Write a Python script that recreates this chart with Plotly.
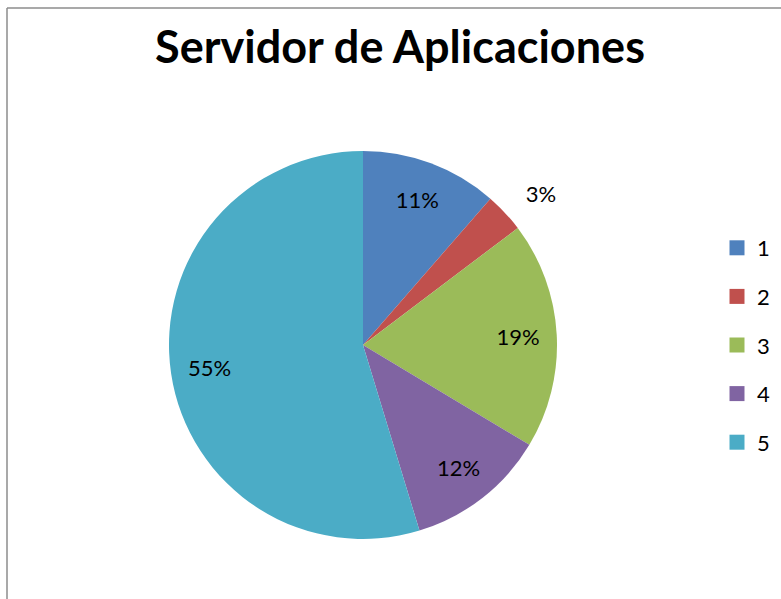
import plotly.graph_objects as go

labels = ["1", "2", "3", "4", "5"]
values = [11.4, 3.3, 18.9, 11.7, 54.7]
colors = ["#4F81BD", "#C0504D", "#9BBB59", "#8064A2", "#4BACC6"]
text_positions = ["inside", "outside", "inside", "inside", "inside"]
label_pull = [0, 0.1, 0, 0, 0]
title_text = "Servidor de Aplicaciones"

W, H = 781, 599
cx, cy, R = 363, 345, 194
FONT = "Lato, Calibri, sans-serif"
maxpull = max(label_pull)
R2 = R * (1 + maxpull)


def dom(r):
    return dict(x=[(cx - r) / W, (cx + r) / W], y=[1 - (cy + r) / H, 1 - (cy - r) / H])


fig = go.Figure()

# coloured slices
fig.add_trace(go.Pie(
    labels=labels, values=values, sort=False, direction="clockwise", rotation=0,
    marker=dict(colors=colors, line=dict(width=0)),
    textinfo="none", domain=dom(R), showlegend=False,
    hoverinfo="label+percent",
))

# transparent ring carrying the percentage labels (places them at ~0.8 R)
fig.add_trace(go.Pie(
    labels=labels, values=values, sort=False, direction="clockwise", rotation=0,
    hole=0.6, pull=label_pull,
    marker=dict(colors=["rgba(0,0,0,0)"] * len(labels), line=dict(width=0)),
    texttemplate="%{percent:.0%}", textposition=text_positions,
    insidetextorientation="horizontal",
    textfont=dict(family=FONT, size=22, color="#000000"),
    domain=dom(R2), showlegend=False, hoverinfo="skip",
))

# legend entries
for lab, col in zip(labels, colors):
    fig.add_trace(go.Scatter(
        x=[None], y=[None], mode="markers", name=lab, legendgroup=lab,
        marker=dict(symbol="square", size=15, color=col), showlegend=True,
    ))

fig.update_layout(
    width=W, height=H,
    margin=dict(l=0, r=0, t=0, b=0),
    paper_bgcolor="white",
    plot_bgcolor="white",
    xaxis=dict(visible=False), yaxis=dict(visible=False),
    title=dict(text="<b>" + title_text + "</b>", x=400 / W, xanchor="center",
               y=1 - 47 / H, yanchor="middle",
               font=dict(family=FONT, size=45, color="#000000")),
    legend=dict(x=717 / W, xanchor="left", y=1 - 227 / H, yanchor="top",
                font=dict(family=FONT, size=22, color="#000000"),
                tracegroupgap=17, bgcolor="rgba(0,0,0,0)"),
    shapes=[
        dict(type="line", xref="paper", yref="paper", x0=7 / W, x1=1.0, y0=1 - 8 / H, y1=1 - 8 / H,
             line=dict(color="#8c8c8c", width=1.5)),
        dict(type="line", xref="paper", yref="paper", x0=7 / W, x1=7 / W, y0=0.0, y1=1 - 8 / H,
             line=dict(color="#8c8c8c", width=1.5)),
    ],
)

fig.write_html("out.html", config={"displayModeBar": False},
               post_script="document.body.style.margin='0';")
